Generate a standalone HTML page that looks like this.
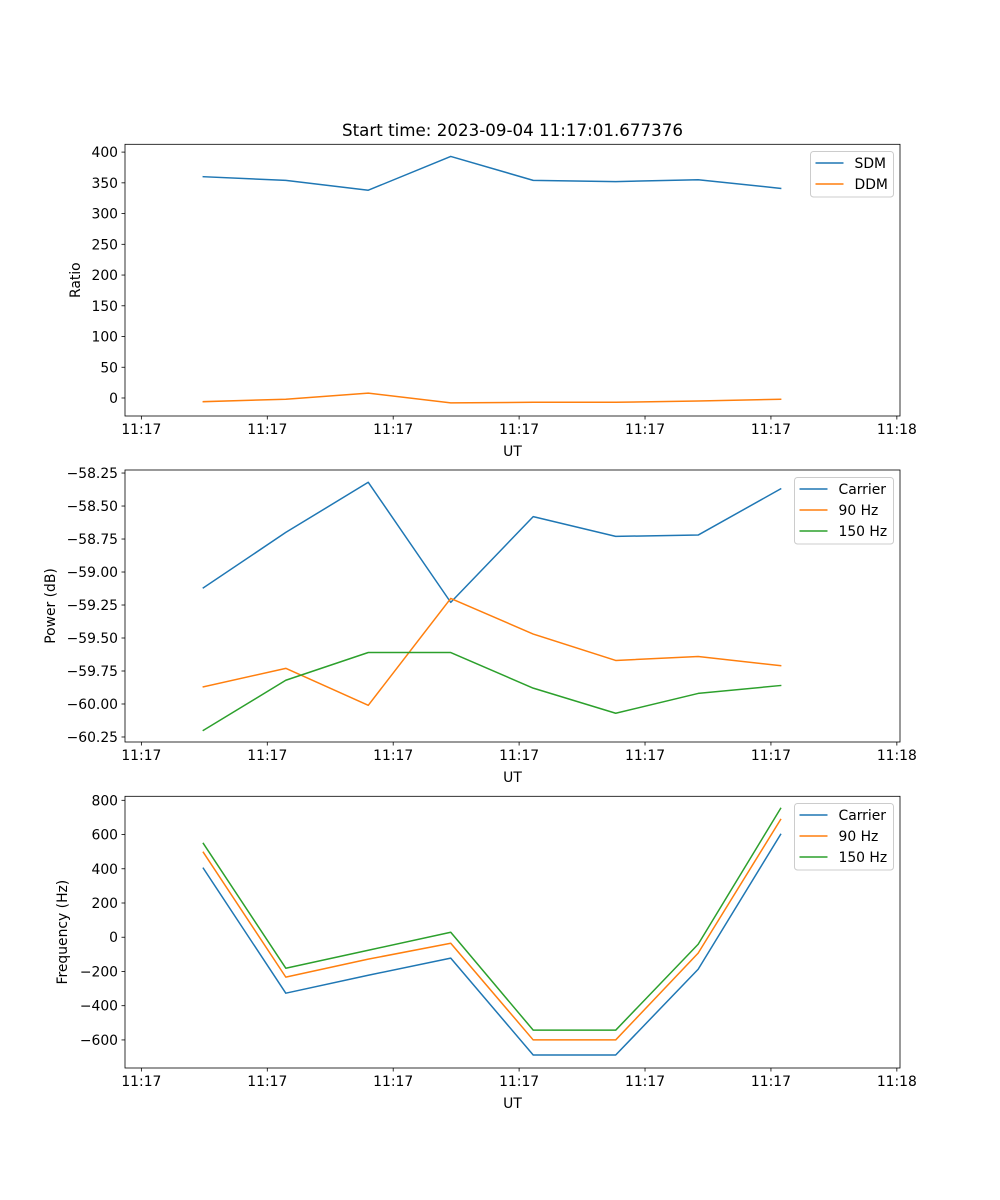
<!DOCTYPE html>
<html><head><meta charset="utf-8">
<style>
html,body{margin:0;padding:0;background:#fff;}
svg{display:block;font-family:"DejaVu Sans","Liberation Sans",sans-serif;}
</style></head>
<body>
<svg id="fig" width="1000" height="1200" viewBox="0 0 1000 1200" xmlns="http://www.w3.org/2000/svg">
<rect width="1000" height="1200" fill="#fff"/>
<text x="512.5" y="136" font-size="16.7" text-anchor="middle" fill="#000">Start time: 2023-09-04 11:17:01.677376</text>
</svg>
<script>
// shared time data (seconds after 11:17:00)
const times = [4.92, 11.47, 18.02, 24.57, 31.12, 37.67, 44.22, 50.77];
const xTickVals = [0, 10, 20, 30, 40, 50, 60];
const xTickLabels = ["11:17","11:17","11:17","11:17","11:17","11:17","11:18"];

// panel 1: ratio
const sdm = [360, 354, 338, 393, 354, 352, 355, 341];
const ddm = [-6, -2, 8, -8, -7, -7, -5, -2];
const ratioTicks = [0, 50, 100, 150, 200, 250, 300, 350, 400];

// panel 2: power
const powCarrier = [-59.12, -58.70, -58.32, -59.23, -58.58, -58.73, -58.72, -58.37];
const pow90 = [-59.87, -59.73, -60.01, -59.20, -59.47, -59.67, -59.64, -59.71];
const pow150 = [-60.20, -59.82, -59.61, -59.61, -59.88, -60.07, -59.92, -59.86];
const powTicks = [-60.25, -60.00, -59.75, -59.50, -59.25, -59.00, -58.75, -58.50, -58.25];

// panel 3: frequency
const freqCarrier = [403, -327, -222, -122, -688, -688, -187, 601];
const freq90 = [496, -233, -128, -35, -600, -600, -93, 688];
const freq150 = [548, -181, -76, 29, -543, -543, -41, 753];
const freqTicks = [-600, -400, -200, 0, 200, 400, 600, 800];

const NS = "http://www.w3.org/2000/svg";
const svg = document.getElementById('fig');
const C = {blue:"#1f77b4", orange:"#ff7f0e", green:"#2ca02c"};
const AX_L = 125, AX_R = 900, X0 = -1.3, X1 = 60.25;
function xs(t){ return AX_L + (t - X0) / (X1 - X0) * (AX_R - AX_L); }

function mk(tag, attrs, parent){
  const e = document.createElementNS(NS, tag);
  for (const k in attrs) e.setAttribute(k, attrs[k]);
  (parent || svg).appendChild(e);
  return e;
}
function fmt(v, dec){ const s = Math.abs(v).toFixed(dec); return (v < 0 ? "\u2212" : "") + s; }

function panel(cfg){
  const g = mk('g', {});
  
  
  const top = cfg.top, bot = cfg.bot;
  const ys = v => bot - (v - cfg.y0) / (cfg.y1 - cfg.y0) * (bot - top);
  cfg.series.forEach(s => {
    const d = s.vals.map((v, i) => (i ? 'L' : 'M') + xs(times[i]).toFixed(2) + ' ' + ys(v).toFixed(2)).join(' ');
    const p = mk('path', {d: d, fill: 'none', stroke: s.color, 'stroke-width': 1.5, 'stroke-linejoin': 'round', 'stroke-linecap': 'square'}, g);
    
    
  });
  const fr = mk('rect', {x: AX_L, y: top, width: AX_R - AX_L, height: bot - top, fill: 'none', stroke: '#000', 'stroke-width': 0.8}, g);
  
  
  xTickVals.forEach((t, i) => {
    const x = xs(t);
    mk('line', {x1: x, x2: x, y1: bot, y2: bot + 3.5, stroke: '#000', 'stroke-width': 0.8}, g);
    const tx = mk('text', {x: x, y: bot + 18, 'font-size': 13.9, 'text-anchor': 'middle', fill: '#000'}, g);
    tx.textContent = xTickLabels[i];
    
    
  });
  const xl = mk('text', {x: (AX_L + AX_R) / 2, y: bot + 40, 'font-size': 13.9, 'text-anchor': 'middle', fill: '#000'}, g);
  xl.textContent = 'UT';
  
  
  cfg.ticks.forEach(v => {
    const y = ys(v);
    mk('line', {x1: AX_L - 3.5, x2: AX_L, y1: y, y2: y, stroke: '#000', 'stroke-width': 0.8}, g);
    const tx = mk('text', {x: AX_L - 7, y: y + 5, 'font-size': 13.9, 'text-anchor': 'end', fill: '#000'}, g);
    tx.textContent = fmt(v, cfg.dec);
    
    
  });
  const yl = mk('text', {x: 0, y: 0, 'font-size': 13.9, 'text-anchor': 'middle', fill: '#000',
    transform: 'translate(' + cfg.ylx + ',' + ((top + bot) / 2) + ') rotate(-90)'}, g);
  yl.textContent = cfg.ylabel;
  
  
  const L = cfg.legend;
  const lg = mk('g', {}, g);
  
  
  mk('rect', {x: L.x, y: L.y, width: L.w, height: 3.5 + cfg.series.length * 21, rx: 3, fill: '#fff', 'fill-opacity': 0.8, stroke: '#ccc', 'stroke-width': 1}, lg);
  cfg.series.forEach((s, i) => {
    const y = L.y + 11.5 + i * 21;
    const e = mk('g', {}, lg);
    
    
    mk('line', {x1: L.x + 5, x2: L.x + 33, y1: y, y2: y, stroke: s.color, 'stroke-width': 1.5}, e);
    const t = mk('text', {x: L.x + 44, y: y + 5, 'font-size': 13.9, fill: '#000'}, e);
    t.textContent = s.label;
  });
}

panel({name: 'ratio-panel', top: 144.3, bot: 416, y0: -29.3, y1: 412.7, ticks: ratioTicks, dec: 0,
  ylabel: 'Ratio', ylx: 80, legend: {x: 810.5, y: 151.5, w: 83},
  series: [{id: 'sdm', label: 'SDM', vals: sdm, color: C.blue}, {id: 'ddm', label: 'DDM', vals: ddm, color: C.orange}]});

panel({name: 'power-panel', top: 470, bot: 742, y0: -60.288, y1: -58.227, ticks: powTicks, dec: 2,
  ylabel: 'Power (dB)', ylx: 55, legend: {x: 794.5, y: 477.5, w: 99},
  series: [{id: 'carrier', label: 'Carrier', vals: powCarrier, color: C.blue},
           {id: '90hz', label: '90 Hz', vals: pow90, color: C.orange},
           {id: '150hz', label: '150 Hz', vals: pow150, color: C.green}]});

panel({name: 'frequency-panel', top: 796.3, bot: 1068, y0: -764, y1: 823.4, ticks: freqTicks, dec: 0,
  ylabel: 'Frequency (Hz)', ylx: 67, legend: {x: 794.5, y: 803.5, w: 99},
  series: [{id: 'carrier', label: 'Carrier', vals: freqCarrier, color: C.blue},
           {id: '90hz', label: '90 Hz', vals: freq90, color: C.orange},
           {id: '150hz', label: '150 Hz', vals: freq150, color: C.green}]});
</script>
</body></html>
